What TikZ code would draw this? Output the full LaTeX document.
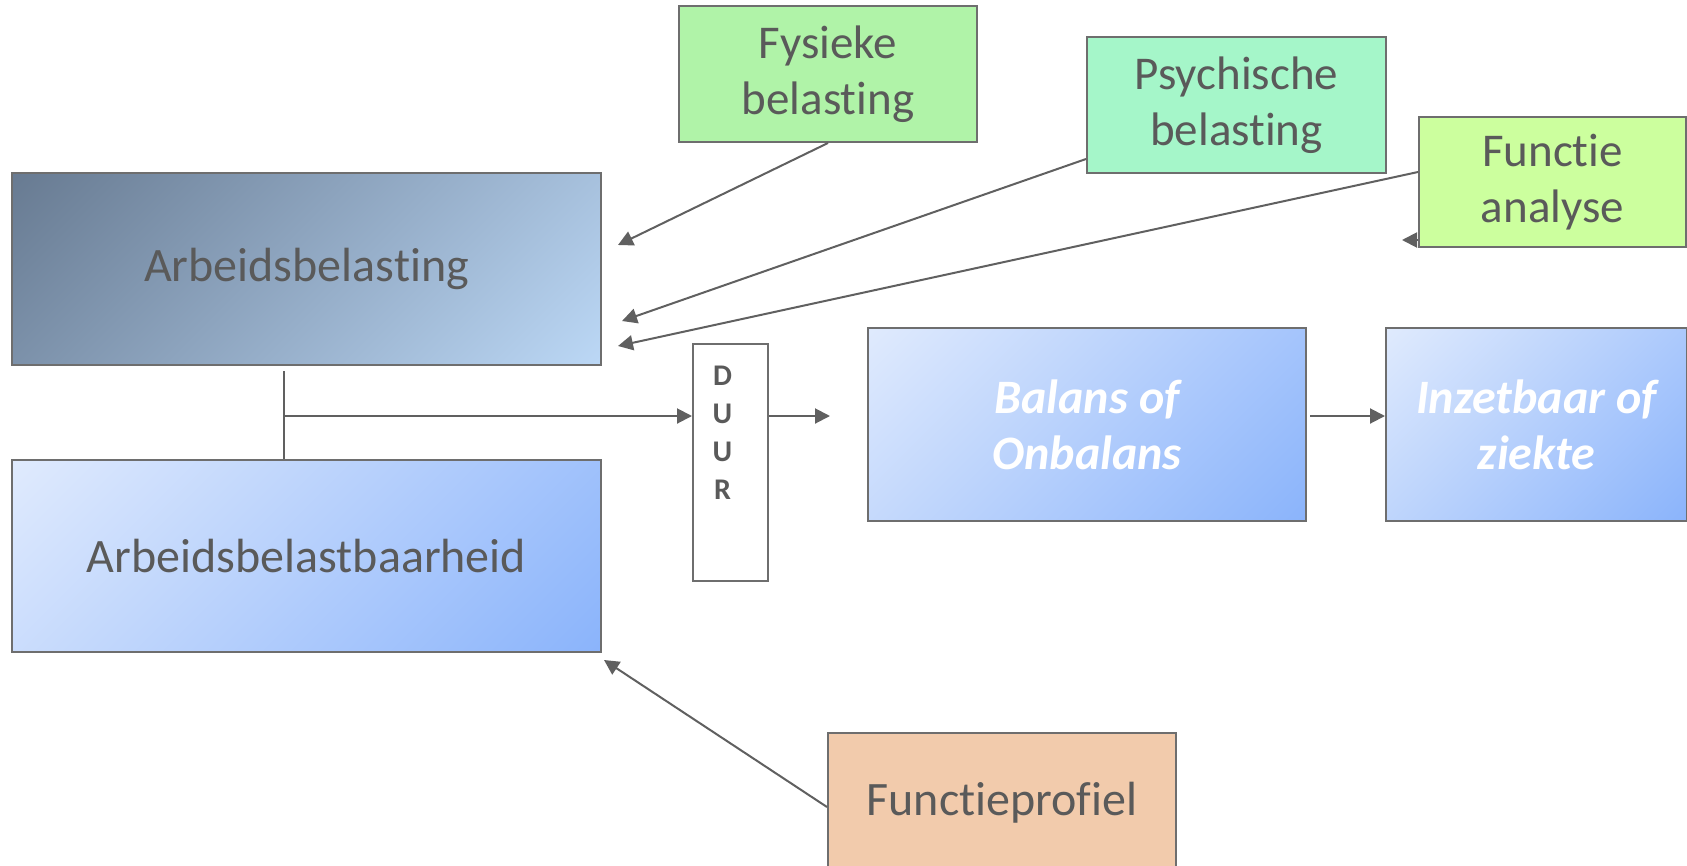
\documentclass[tikz,border=0pt]{standalone}
\usepackage{fontspec}
\setmainfont{Carlito}[Ligatures={NoCommon,NoContextual}]
\usetikzlibrary{arrows.meta,calc}
\definecolor{edge}{HTML}{6E6E6E}
\definecolor{wire}{HTML}{606060}
\definecolor{txt}{HTML}{5A5A5A}
\definecolor{slateA}{HTML}{687B92}
\definecolor{slateB}{HTML}{BBD7F5}
\definecolor{blueA}{HTML}{DFEAFD}
\definecolor{blueB}{HTML}{8BB4FB}
\definecolor{fysfill}{HTML}{B0F3A8}
\definecolor{psyfill}{HTML}{A5F6C9}
\definecolor{fafill}{HTML}{CCFF9E}
\definecolor{fpfill}{HTML}{F2CBAC}
% diagonal gradients running corner to corner once rotated by -45 degrees
\pgfdeclarehorizontalshading{slatediag}{100bp}{color(0bp)=(slateA); color(15bp)=(slateA); color(85bp)=(slateB); color(100bp)=(slateB)}
\pgfdeclarehorizontalshading{bluediag}{100bp}{color(0bp)=(blueA); color(15bp)=(blueA); color(85bp)=(blueB); color(100bp)=(blueB)}
\tikzset{
  box/.style={draw=edge, line width=2pt, inner sep=0pt, text=txt, align=center,
    anchor=north west, font=\fontsize{47}{56}\selectfont},
  bigtext/.style={font=\fontsize{48}{58}\selectfont},
  slatebox/.style={box, bigtext, shade, shading=slatediag, shading angle=-45},
  bluebox/.style={box, bigtext, shade, shading=bluediag, shading angle=-45},
  whitetext/.style={text=white, font=\fontsize{48}{56}\selectfont\bfseries\itshape},
  link/.style={draw=wire, line width=2pt},
  arr/.style={link, -{Triangle[length=15pt,width=15pt]}},
}
\begin{document}
\begin{tikzpicture}[x=1pt,y=-1pt]
\useasboundingbox (0,0) rectangle (1687,865);

% main blocks
\node[slatebox, minimum width=589pt, minimum height=192pt] (AB) at (11,172) {Arbeidsbelasting};
\node[bluebox, minimum width=589pt, minimum height=192pt] (ABB) at (11,459) {Arbeidsbelastbaarheid};
\node[box, fill=white, minimum width=75pt, minimum height=237pt] (DUUR) at (692,343) {};
\node[text=txt, align=center, inner sep=0pt, anchor=north,
      font=\fontsize{30}{38}\selectfont\bfseries] (duurtxt)
      at ($(DUUR.north)+(-8,23)$) {D\\U\\U\\R};
\node[bluebox, whitetext, minimum width=438pt, minimum height=193pt] (BAL) at (867,327) {Balans of\\Onbalans};
\node[bluebox, whitetext, minimum width=301pt, minimum height=193pt] (INZ) at (1385,327) {Inzetbaar of\\ziekte};

% influencing factors
\node[box, fill=fysfill, minimum width=298pt, minimum height=136pt] (FYS) at (678,5) {Fysieke\\belasting};
\node[box, fill=psyfill, minimum width=299pt, minimum height=136pt] (PSY) at (1086,36) {Psychische\\belasting};
\node[box, fill=fafill, minimum width=267pt, minimum height=130pt] (FA) at (1418,116) {Functie\\analyse};
\node[box, fill=fpfill, minimum width=348pt, minimum height=140pt, bigtext] (FP) at (827,732) {Functieprofiel};

% arrow tips beside the load block
\coordinate (tipF) at ($(AB.north east)+(16,73)$);
\coordinate (tipP) at ($(AB.north east)+(20,149)$);
\coordinate (tipA) at ($(AB.north east)+(16,174)$);
\coordinate (tipFP) at ($(ABB.south east)+(2,7)$);

\draw[arr] (FYS.south) -- (tipF);
\draw[arr] ($(PSY.south west)+(0,-15)$) -- (tipP);
\draw[arr] ($(FA.north west)+(0,56)$) -- (tipA);
\draw[arr] ($(FP.north west)+(0,75)$) -- (tipFP);
\draw[arr] ($(FA.south west)+(0,-8)$) -- ++(-16,0);

% load and capacity joined, leading through duration
\coordinate (joinTop) at ($(AB.south)+(-22.5,5)$);
\draw[link] (joinTop) -- (joinTop |- ABB.north);
\coordinate (joinMid) at ($(joinTop)+(0,45)$);
\draw[arr] (joinMid) -- (joinMid -| DUUR.west);
\coordinate (duurOut) at ($(joinMid -| DUUR.east)+(61,0)$);
\draw[arr] (joinMid -| DUUR.east) -- (duurOut);
\draw[arr] ($(joinMid -| BAL.east)+(3,0)$) -- (joinMid -| INZ.west);
\end{tikzpicture}
\end{document}
